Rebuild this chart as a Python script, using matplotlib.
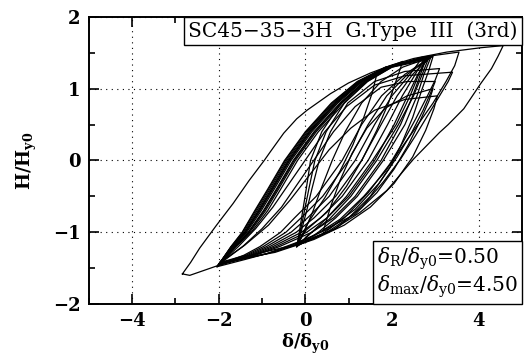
import matplotlib
matplotlib.use("Agg")
import matplotlib.pyplot as plt
from matplotlib.offsetbox import AnchoredText
from matplotlib.ticker import MultipleLocator

plt.rcParams["font.family"] = ["DejaVu Serif"]
plt.rcParams["mathtext.fontset"] = "dejavuserif"
plt.rcParams["axes.unicode_minus"] = True

# outer (largest) loop
outer = [(-2.84, -1.58), (-2.65, -1.42), (-2.44, -1.22), (-2.05, -0.9), (-1.67, -0.6),
         (-1.3, -0.28), (-0.95, 0.0), (-0.81, 0.12), (-0.5, 0.38), (-0.2, 0.58),
         (0.04, 0.7), (0.58, 0.93), (1.0, 1.08), (1.51, 1.22), (2.0, 1.33), (2.5, 1.42),
         (3.27, 1.51), (4.05, 1.57), (4.57, 1.6),
         (4.45, 1.45), (4.3, 1.28), (4.05, 1.07), (3.66, 0.72), (3.3, 0.5), (3.1, 0.39),
         (2.5, 0.02), (1.88, -0.42), (1.27, -0.72), (0.65, -0.96), (0.19, -1.07),
         (-0.27, -1.18), (-1.2, -1.31), (-2.05, -1.47), (-2.67, -1.6), (-2.84, -1.58)]

# loops between the bottom peak near (-2, -1.45) and the top peaks near (2.8, 1.44)
loop_a1 = [(-2.0, -1.45), (-1.72, -1.2), (-1.46, -1.0), (-1.17, -0.7), (-0.87, -0.4),
           (-0.48, 0.0), (0.0, 0.4), (0.6, 0.8), (1.2, 1.1), (1.85, 1.3), (2.8, 1.44),
           (2.66, 1.2), (2.48, 0.9), (2.2, 0.5), (1.75, 0.0), (1.15, -0.5), (0.65, -0.8),
           (0.15, -1.0), (-0.6, -1.2), (-1.15, -1.32), (-2.0, -1.45)]
loop_a2 = [(-2.02, -1.46), (-1.7, -1.2), (-1.425, -1.0), (-1.12, -0.7), (-0.82, -0.4),
           (-0.43, 0.0), (0.05, 0.4), (0.65, 0.8), (1.24, 1.1), (1.875, 1.3), (2.85, 1.45),
           (2.6, 1.2), (2.36, 0.9), (2.05, 0.5), (1.6, 0.0), (1.0, -0.5), (0.5, -0.8),
           (0.03, -1.0), (-0.675, -1.2), (-1.195, -1.32), (-2.02, -1.46)]
loop_a3 = [(-1.98, -1.43), (-1.68, -1.2), (-1.39, -1.0), (-1.07, -0.7), (-0.77, -0.4),
           (-0.38, 0.0), (0.1, 0.4), (0.7, 0.8), (1.28, 1.1), (1.9, 1.3), (2.75, 1.42),
           (2.54, 1.2), (2.24, 0.9), (1.9, 0.5), (1.45, 0.0), (0.85, -0.5), (0.35, -0.8),
           (-0.09, -1.0), (-0.75, -1.2), (-1.24, -1.32), (-1.98, -1.43)]
loop_a4 = [(-2.0, -1.44), (-1.66, -1.2), (-1.355, -1.0), (-1.02, -0.7), (-0.72, -0.4),
           (-0.33, 0.0), (0.15, 0.4), (0.75, 0.8), (1.32, 1.1), (1.925, 1.3), (2.9, 1.44),
           (2.48, 1.2), (2.12, 0.9), (1.75, 0.5), (1.3, 0.0), (0.7, -0.5), (0.2, -0.8),
           (-0.21, -1.0), (-0.825, -1.2), (-1.285, -1.32), (-2.0, -1.44)]
loop_a5 = [(-2.03, -1.47), (-1.64, -1.2), (-1.32, -1.0), (-0.97, -0.7), (-0.67, -0.4),
           (-0.28, 0.0), (0.2, 0.4), (0.8, 0.8), (1.36, 1.1), (1.95, 1.3), (2.7, 1.43),
           (2.42, 1.2), (2.0, 0.9), (1.6, 0.5), (1.15, 0.0), (0.55, -0.5), (0.05, -0.8),
           (-0.33, -1.0), (-0.9, -1.2), (-1.33, -1.32), (-2.03, -1.47)]
loop_a6 = [(-1.97, -1.42), (-1.62, -1.2), (-1.285, -1.0), (-0.92, -0.7), (-0.62, -0.4),
           (-0.23, 0.0), (0.25, 0.4), (0.85, 0.8), (1.4, 1.1), (1.975, 1.3), (2.95, 1.46),
           (2.36, 1.2), (1.88, 0.9), (1.45, 0.5), (1.0, 0.0), (0.4, -0.5), (-0.1, -0.8),
           (-0.45, -1.0), (-0.975, -1.2), (-1.375, -1.32), (-1.97, -1.42)]
loop_a7 = [(-2.0, -1.45), (-1.6, -1.2), (-1.25, -1.0), (-0.87, -0.7), (-0.57, -0.4),
           (-0.18, 0.0), (0.3, 0.4), (0.9, 0.8), (1.44, 1.1), (2.0, 1.3), (2.8, 1.4),
           (2.3, 1.2), (1.76, 0.9), (1.3, 0.5), (0.85, 0.0), (0.25, -0.5), (-0.25, -0.8),
           (-0.57, -1.0), (-1.05, -1.2), (-1.42, -1.32), (-2.0, -1.45)]
loop_a8 = [(-2.04, -1.48), (-1.71, -1.2), (-1.4, -1.0), (-1.09, -0.7), (-0.79, -0.4),
           (-0.4, 0.0), (0.08, 0.4), (0.68, 0.8), (1.26, 1.1), (1.9, 1.3), (2.7, 1.44),
           (3.55, 1.51), (3.45, 1.32), (3.25, 1.1), (2.95, 0.8), (2.6, 0.5), (2.25, 0.2),
           (1.85, -0.15), (1.35, -0.5), (0.8, -0.82), (0.2, -1.05), (-0.6, -1.25),
           (-1.4, -1.38), (-2.04, -1.48)]

# loops from (-2, -1.45) loading through the middle band
loop_b1 = [(-2.0, -1.45), (-1.55, -1.2), (-1.15, -0.95), (-0.75, -0.65), (-0.35, -0.3),
           (0.05, 0.05), (0.45, 0.4), (0.95, 0.75), (1.6, 1.05), (2.3, 1.18), (3.4, 1.23),
           (3.3, 1.1), (3.1, 0.9), (2.85, 0.65), (2.55, 0.35), (2.2, 0.02), (1.8, -0.3),
           (1.3, -0.65), (0.7, -0.95), (0.0, -1.14), (-0.9, -1.3), (-2.0, -1.45)]
loop_b2 = [(-1.98, -1.44), (-1.45, -1.2), (-1.0, -0.95), (-0.55, -0.65), (-0.15, -0.3),
           (0.25, 0.05), (0.65, 0.4), (1.15, 0.75), (1.75, 1.02), (2.35, 1.1), (3.0, 1.1),
           (2.9, 0.95), (2.72, 0.7), (2.45, 0.38), (2.12, 0.05), (1.7, -0.32),
           (1.15, -0.68), (0.55, -0.95), (-0.1, -1.12), (-0.9, -1.3), (-1.98, -1.44)]

# loops reloading from the bottom peak near (-0.2, -1.2)
loop_c1 = [(-0.2, -1.2), (-0.14, -1.0), (-0.06, -0.7), (0.02, -0.4), (0.12, 0.0),
           (0.38, 0.4), (0.82, 0.8), (1.36, 1.1), (1.95, 1.3), (2.8, 1.43),
           (2.62, 1.2), (2.42, 0.9), (2.1, 0.5), (1.55, 0.0), (0.95, -0.5), (0.5, -0.8),
           (0.15, -1.0), (-0.2, -1.2)]
loop_c2 = [(-0.2, -1.2), (-0.12, -1.0), (-0.02, -0.7), (0.08, -0.4), (0.22, 0.0),
           (0.48, 0.4), (0.9, 0.8), (1.42, 1.1), (2.0, 1.3), (2.9, 1.44),
           (2.74, 1.2), (2.58, 0.9), (2.3, 0.5), (1.8, 0.0), (1.2, -0.5), (0.7, -0.8),
           (0.3, -1.0), (-0.2, -1.2)]
loop_c3 = [(-0.19, -1.19), (-0.1, -1.0), (0.03, -0.7), (0.15, -0.4), (0.32, 0.0),
           (0.58, 0.4), (0.98, 0.8), (1.6, 1.1), (2.3, 1.24), (3.1, 1.28),
           (3.0, 1.12), (2.82, 0.9), (2.55, 0.58), (2.25, 0.25), (1.95, -0.05),
           (1.45, -0.45), (0.9, -0.8), (0.4, -1.02), (-0.19, -1.19)]
loop_c6 = [(-0.18, -1.18), (-0.03, -1.0), (0.18, -0.7), (0.36, -0.4), (0.62, 0.0),
           (0.92, 0.4), (1.3, 0.8), (1.75, 1.1), (2.25, 1.3), (2.95, 1.45),
           (2.85, 1.25), (2.7, 1.0), (2.48, 0.6), (2.2, 0.2), (1.95, -0.1), (1.5, -0.5),
           (1.0, -0.8), (0.5, -1.0), (-0.18, -1.18)]

# smaller loops towards the right
loop_d1 = [(0.42, -0.97), (0.58, -0.65), (0.8, -0.28), (1.08, 0.1), (1.42, 0.45),
           (1.85, 0.73), (2.35, 0.9), (2.95, 1.0), (2.85, 0.82), (2.65, 0.55),
           (2.38, 0.22), (2.05, -0.12), (1.65, -0.45), (1.15, -0.75), (0.42, -0.97)]
loop_d2 = [(-1.97, -1.42), (-1.4, -1.18), (-0.85, -0.9), (-0.35, -0.55), (0.1, -0.2),
           (0.55, 0.15), (1.05, 0.45), (1.6, 0.7), (2.3, 0.85), (3.05, 0.9),
           (2.97, 0.72), (2.78, 0.42), (2.48, 0.05), (2.05, -0.32), (1.5, -0.65),
           (0.9, -0.9), (0.2, -1.1), (-0.7, -1.28), (-1.97, -1.42)]

# loops unloading to the bottom peak near (-0.2, -1.2)
loop_e1 = [(-2.01, -1.46), (-1.67, -1.2), (-1.38, -1.0), (-1.05, -0.7), (-0.75, -0.4),
           (-0.36, 0.0), (0.12, 0.4), (0.72, 0.8), (1.3, 1.1), (1.9, 1.3), (2.25, 1.38),
           (2.12, 1.15), (1.92, 0.8), (1.65, 0.42), (1.32, 0.02), (0.95, -0.36),
           (0.5, -0.72), (0.0, -0.98), (-0.2, -1.19)]
loop_e2 = [(-1.99, -1.44), (-1.63, -1.2), (-1.31, -1.0), (-0.95, -0.7), (-0.65, -0.4),
           (-0.26, 0.0), (0.22, 0.4), (0.82, 0.8), (1.3, 1.05), (1.65, 1.2),
           (1.55, 0.95), (1.35, 0.6), (1.1, 0.22), (0.8, -0.15), (0.45, -0.52),
           (0.08, -0.85), (-0.2, -1.18)]
loop_e3 = [(-2.0, -1.45), (-1.71, -1.2), (-1.45, -1.0), (-1.15, -0.7), (-0.85, -0.4),
           (-0.46, 0.0), (0.02, 0.4), (0.62, 0.8), (1.22, 1.1), (1.86, 1.3), (2.85, 1.43),
           (2.7, 1.2), (2.5, 0.9), (2.15, 0.5), (1.65, 0.0), (1.05, -0.5), (0.55, -0.82),
           (0.1, -1.02), (-0.2, -1.19)]

loops = [outer, loop_a1, loop_a2, loop_a3, loop_a4, loop_a5, loop_a6, loop_a7, loop_a8,
         loop_b1, loop_b2, loop_c1, loop_c2, loop_c3, loop_c6, loop_d1, loop_d2,
         loop_e1, loop_e2, loop_e3]

title_text = "SC45\u221235\u22123H  G.Type  III  (3rd)"
param_text = (r"$\delta_\mathrm{R}/\delta_\mathrm{y0}$=0.50" + "\n"
              r"$\delta_\mathrm{max}/\delta_\mathrm{y0}$=4.50")

fig = plt.figure(figsize=(5.26, 3.59), dpi=100)
ax = fig.add_axes([0.169, 0.153, 0.823, 0.800])

for lp in loops:
    xs = [p[0] for p in lp]
    ys = [p[1] for p in lp]
    ax.plot(xs, ys, color="black", linewidth=0.9)

ax.set_xlim(-5, 5)
ax.set_ylim(-2, 2)
ax.xaxis.set_major_locator(MultipleLocator(2))
ax.xaxis.set_minor_locator(MultipleLocator(1))
ax.yaxis.set_major_locator(MultipleLocator(1))
ax.yaxis.set_minor_locator(MultipleLocator(0.5))
ax.tick_params(which="both", direction="in", top=True, right=True, width=1.2)
ax.tick_params(which="major", length=7, labelsize=13, pad=6)
ax.tick_params(which="minor", length=4)
for lab in ax.get_xticklabels() + ax.get_yticklabels():
    lab.set_fontweight("bold")
for sp in ax.spines.values():
    sp.set_linewidth(1.4)
ax.grid(True, which="major", linestyle=(0, (1, 4)), color="black", linewidth=0.8)

ax.set_xlabel(r"$\mathbf{\delta/\delta_{y0}}$", fontsize=13, labelpad=1)
ax.set_ylabel(r"$\mathbf{H/H_{y0}}$", fontsize=13, labelpad=10)

at = AnchoredText(title_text, loc="upper right", borderpad=0, pad=0.2,
                  prop=dict(size=14.5))
at.patch.set_linewidth(1.0)
at.patch.set_boxstyle("square,pad=0")
ax.add_artist(at)

at2 = AnchoredText(param_text, loc="lower right", borderpad=0, pad=0.2,
                   prop=dict(size=14.5, linespacing=1.1))
at2.patch.set_linewidth(1.0)
at2.patch.set_boxstyle("square,pad=0")
ax.add_artist(at2)

fig.savefig("out.png", dpi=100)
